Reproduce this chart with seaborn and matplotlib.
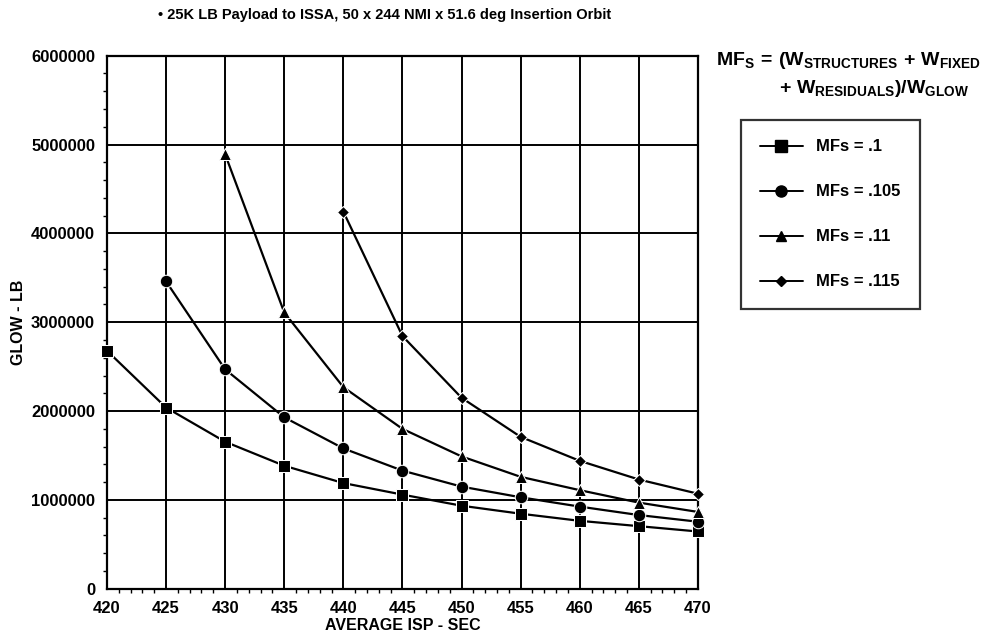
import numpy as np
import pandas as pd
import matplotlib
matplotlib.use("Agg")
import matplotlib.pyplot as plt
from matplotlib.ticker import MultipleLocator, FuncFormatter
import seaborn as sns

# data
isp = [420, 425, 430, 435, 440, 445, 450, 455, 460, 465, 470]
mfs_labels = ["MFs = .1", "MFs = .105", "MFs = .11", "MFs = .115"]

glow_mf100 = [2680000, 2040000, 1655000, 1385000, 1190000, 1060000, 935000, 845000, 765000, 705000, 645000]
glow_mf105 = [None, 3460000, 2470000, 1930000, 1580000, 1330000, 1150000, 1030000, 925000, 830000, 755000]
glow_mf110 = [None, None, 4890000, 3110000, 2270000, 1800000, 1490000, 1260000, 1110000, 970000, 865000]
glow_mf115 = [None, None, None, None, 4245000, 2845000, 2150000, 1710000, 1440000, 1230000, 1070000]

series = [glow_mf100, glow_mf105, glow_mf110, glow_mf115]
rows = []
for lab, vals in zip(mfs_labels, series):
    for x, v in zip(isp, vals):
        if v is not None:
            rows.append({"isp": x, "glow": v, "mfs": lab})
df = pd.DataFrame(rows)

sns.set_style("white")
plt.rcParams["font.family"] = ["Liberation Sans", "DejaVu Sans"]
plt.rcParams["font.weight"] = "bold"
plt.rcParams["text.color"] = "black"
plt.rcParams["axes.labelcolor"] = "black"
plt.rcParams["mathtext.fontset"] = "custom"
plt.rcParams["mathtext.rm"] = "Liberation Sans:bold"
plt.rcParams["mathtext.it"] = "Liberation Sans:bold"
plt.rcParams["mathtext.bf"] = "Liberation Sans:bold"

fig = plt.figure(figsize=(9.9, 6.4), dpi=100)
ax = fig.add_axes([0.108, 0.080, 0.597, 0.833])

markers = {"MFs = .1": "s", "MFs = .105": "o", "MFs = .11": "^", "MFs = .115": "D"}
sizes_map = {"MFs = .1": 9, "MFs = .105": 9, "MFs = .11": 8, "MFs = .115": 6}

sns.lineplot(data=df, x="isp", y="glow", hue="mfs", style="mfs",
             palette=["black"] * 4, markers=markers, dashes=False,
             markersize=8, linewidth=1.6, ax=ax, legend=False, zorder=3)

# per-series marker sizes, and let the edge markers show in full
for line, lab in zip(ax.get_lines(), mfs_labels):
    line.set_markersize(sizes_map[lab])
    line.set_clip_on(False)

ax.set_xlim(420, 470)
ax.set_ylim(0, 6000000)
ax.xaxis.set_major_locator(MultipleLocator(5))
ax.xaxis.set_minor_locator(MultipleLocator(1))
ax.yaxis.set_major_locator(MultipleLocator(1000000))
ax.yaxis.set_minor_locator(MultipleLocator(200000))
ax.yaxis.set_major_formatter(FuncFormatter(lambda v, p: f"{int(v)}"))
ax.grid(True, which="major", color="black", linewidth=1.4)
for s in ax.spines.values():
    s.set_color("black")
    s.set_linewidth(1.6)
ax.tick_params(which="major", direction="out", length=5, width=1.4, labelsize=12, colors="black")
ax.tick_params(which="minor", direction="out", length=3, width=1.0, colors="black")
ax.tick_params(axis="y", which="minor", left=True)
ax.tick_params(axis="x", which="minor", bottom=True)
for lbl in ax.get_xticklabels() + ax.get_yticklabels():
    lbl.set_fontweight("bold")

ax.set_xlabel("AVERAGE ISP - SEC", fontsize=11.5, fontweight="bold", labelpad=2)
ax.set_ylabel("GLOW - LB", fontsize=11.5, fontweight="bold", labelpad=4)

fig.text(0.388, 0.977, "\u2022 25K LB Payload to ISSA, 50 x 244 NMI x 51.6 deg Insertion Orbit",
         ha="center", va="center", fontsize=10.5, fontweight="bold")

fig.text(0.723, 0.905, r"$\mathrm{MF_S\,=\,(W_{STRUCTURES}\,+\,W_{FIXED}}$",
         ha="left", va="center", fontsize=14)
fig.text(0.787, 0.862, r"$\mathrm{+\ W_{RESIDUALS})/W_{GLOW}}$",
         ha="left", va="center", fontsize=14)

handles = [plt.Line2D([0], [0], color="black", marker=markers[l], markersize=sizes_map[l] - 1,
                      linewidth=1.4) for l in mfs_labels]
leg = fig.legend(handles, mfs_labels, loc="upper left", bbox_to_anchor=(0.748, 0.812),
                 frameon=True, fancybox=False, edgecolor="black", fontsize=12,
                 labelspacing=1.8, handlelength=2.6, borderpad=1.15, handletextpad=0.8,
                 borderaxespad=0)
leg.get_frame().set_linewidth(1.6)
for t in leg.get_texts():
    t.set_fontweight("bold")
    t.set_color("black")

fig.savefig("out.png", dpi=100)
